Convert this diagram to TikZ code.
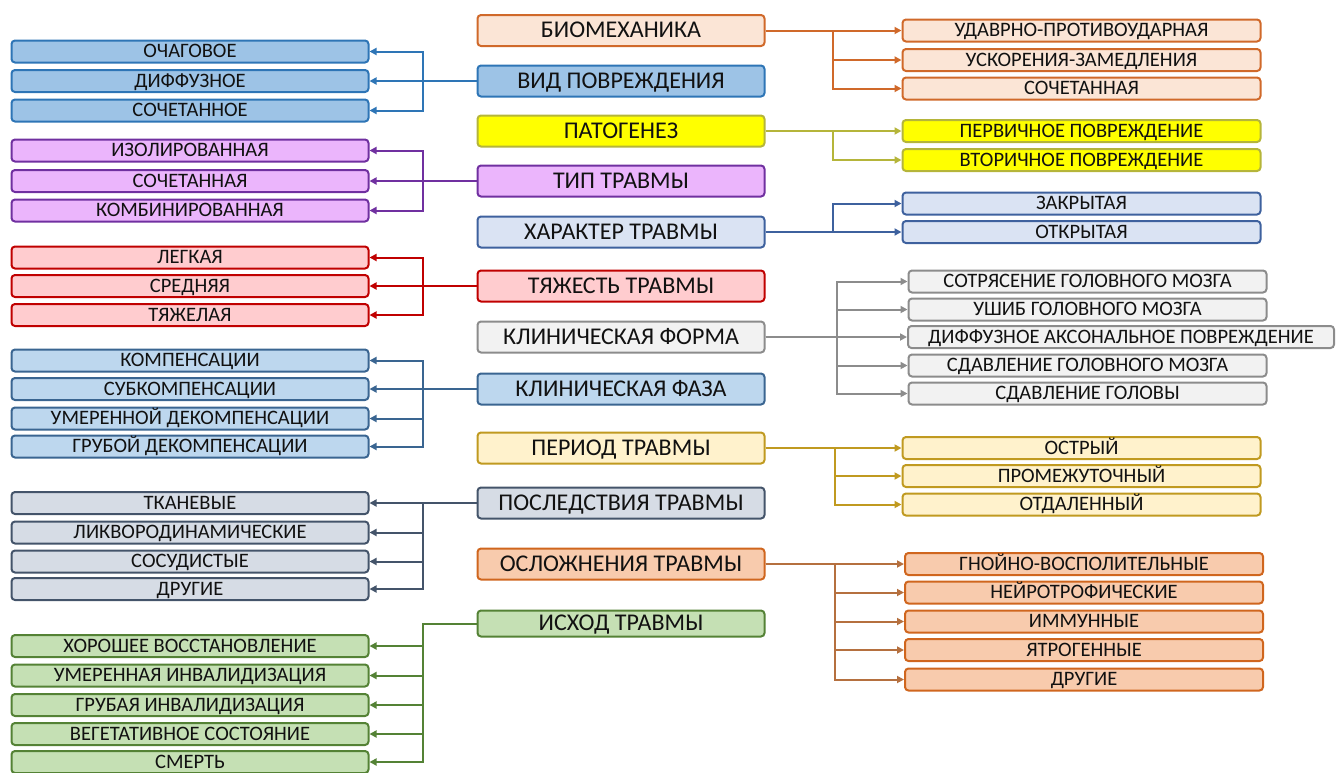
\documentclass[tikz,border=0pt]{standalone}
\usepackage{fontspec}
\setmainfont{Carlito}
\usetikzlibrary{arrows.meta}
\definecolor{txt}{HTML}{111111}
\definecolor{fBlue}{HTML}{9DC3E6}\definecolor{dBlue}{HTML}{2E75B6}
\definecolor{fOr}{HTML}{FBE5D6}\definecolor{dOr}{HTML}{D0692A}
\definecolor{fYe}{HTML}{FFFF00}\definecolor{dYe}{HTML}{B5B53A}
\definecolor{fPu}{HTML}{EBB5FC}\definecolor{dPu}{HTML}{7030A0}
\definecolor{fHa}{HTML}{DAE3F3}\definecolor{dHa}{HTML}{3E619E}
\definecolor{fRe}{HTML}{FFCCCF}\definecolor{dRe}{HTML}{C00000}
\definecolor{fGr}{HTML}{F2F2F2}\definecolor{dGr}{HTML}{8C8C8C}
\definecolor{fFa}{HTML}{BDD7EE}\definecolor{dFa}{HTML}{3A6591}
\definecolor{fPe}{HTML}{FFF2CC}\definecolor{dPe}{HTML}{C09A20}
\definecolor{fPo}{HTML}{D6DCE5}\definecolor{dPo}{HTML}{44546A}
\definecolor{fOs}{HTML}{F8CBAD}\definecolor{dOs}{HTML}{D0661E}\definecolor{cOs}{HTML}{B5703F}
\definecolor{fIs}{HTML}{C5E0B4}\definecolor{dIs}{HTML}{548235}
\tikzset{
 base/.style={draw, rounded corners=3.5pt, line width=2pt, inner sep=0pt, text=txt},
 L/.style={base, minimum width=357pt, minimum height=22pt, text height=12pt, text depth=0pt, font=\fontsize{20.5}{22}\selectfont},
 M/.style={base, minimum width=287pt, minimum height=31pt, text height=14.5pt, text depth=0pt, font=\fontsize{24}{26}\selectfont},
 R/.style={base, minimum width=358pt, minimum height=22pt, text height=12pt, text depth=0pt, font=\fontsize{20.5}{22}\selectfont},
 cn/.style={line width=2pt, -{Triangle[length=7pt,width=7pt]}},
 sBlue/.style={fill=fBlue, draw=dBlue},
 sOr/.style={fill=fOr, draw=dOr},
 sYe/.style={fill=fYe, draw=dYe},
 sPu/.style={fill=fPu, draw=dPu},
 sHa/.style={fill=fHa, draw=dHa},
 sRe/.style={fill=fRe, draw=dRe},
 sGr/.style={fill=fGr, draw=dGr},
 sFa/.style={fill=fFa, draw=dFa},
 sPe/.style={fill=fPe, draw=dPe},
 sPo/.style={fill=fPo, draw=dPo},
 sOs/.style={fill=fOs, draw=dOs},
 sIs/.style={fill=fIs, draw=dIs},
}
\begin{document}
\begin{tikzpicture}[x=1pt,y=-1pt]
\useasboundingbox (0,0) rectangle (1336,772);
% middle column
\node[M,sOr] (bio) at (621,30.5) {БИОМЕХАНИКА};
\node[M,sBlue] (vid) at (621,81) {ВИД ПОВРЕЖДЕНИЯ};
\node[M,sYe] (pato) at (621,131) {ПАТОГЕНЕЗ};
\node[M,sPu] (tip) at (621,181) {ТИП ТРАВМЫ};
\node[M,sHa] (har) at (621,232) {ХАРАКТЕР ТРАВМЫ};
\node[M,sRe] (tyaz) at (621,286) {ТЯЖЕСТЬ ТРАВМЫ};
\node[M,sGr] (klform) at (621,337) {КЛИНИЧЕСКАЯ ФОРМА};
\node[M,sFa] (klfaza) at (621,389) {КЛИНИЧЕСКАЯ ФАЗА};
\node[M,sPe] (period) at (621,448) {ПЕРИОД ТРАВМЫ};
\node[M,sPo] (posl) at (621,503) {ПОСЛЕДСТВИЯ ТРАВМЫ};
\node[M,sOs] (oslo) at (621,564) {ОСЛОЖНЕНИЯ ТРАВМЫ};
\node[M,sIs,minimum height=26pt] (ishod) at (621,623.5) {ИСХОД ТРАВМЫ};
% left column
\node[L,sBlue] (ochag) at (190,51.5) {ОЧАГОВОЕ};
\node[L,sBlue] (diff) at (190,81) {ДИФФУЗНОЕ};
\node[L,sBlue] (soch1) at (190,110.5) {СОЧЕТАННОЕ};
\node[L,sPu] (izol) at (190,150.5) {ИЗОЛИРОВАННАЯ};
\node[L,sPu] (soch3) at (190,181) {СОЧЕТАННАЯ};
\node[L,sPu] (komb) at (190,210.5) {КОМБИНИРОВАННАЯ};
\node[L,sRe] (leg) at (190,257.5) {ЛЕГКАЯ};
\node[L,sRe] (sred) at (190,286) {СРЕДНЯЯ};
\node[L,sRe] (tyazh) at (190,315) {ТЯЖЕЛАЯ};
\node[L,sFa] (komp) at (190,360.5) {КОМПЕНСАЦИИ};
\node[L,sFa] (subk) at (190,389) {СУБКОМПЕНСАЦИИ};
\node[L,sFa] (umer) at (190,418.5) {УМЕРЕННОЙ ДЕКОМПЕНСАЦИИ};
\node[L,sFa] (grub) at (190,446.5) {ГРУБОЙ ДЕКОМПЕНСАЦИИ};
\node[L,sPo] (tkan) at (190,503) {ТКАНЕВЫЕ};
\node[L,sPo] (likv) at (190,532.5) {ЛИКВОРОДИНАМИЧЕСКИЕ};
\node[L,sPo] (sosud) at (190,561.5) {СОСУДИСТЫЕ};
\node[L,sPo] (drug1) at (190,589) {ДРУГИЕ};
\node[L,sIs] (hor) at (190,646) {ХОРОШЕЕ ВОССТАНОВЛЕНИЕ};
\node[L,sIs] (uminv) at (190,675.5) {УМЕРЕННАЯ ИНВАЛИДИЗАЦИЯ};
\node[L,sIs] (grinv) at (190,705) {ГРУБАЯ ИНВАЛИДИЗАЦИЯ};
\node[L,sIs] (veget) at (190,734) {ВЕГЕТАТИВНОЕ СОСТОЯНИЕ};
\node[L,sIs] (smert) at (190,762) {СМЕРТЬ};
% right column
\node[R,sOr] (udar) at (1081.5,30.5) {УДАВРНО-ПРОТИВОУДАРНАЯ};
\node[R,sOr] (uskor) at (1081.5,60) {УСКОРЕНИЯ-ЗАМЕДЛЕНИЯ};
\node[R,sOr] (soch2) at (1081.5,88.5) {СОЧЕТАННАЯ};
\node[R,sYe] (perv) at (1081.5,131) {ПЕРВИЧНОЕ ПОВРЕЖДЕНИЕ};
\node[R,sYe] (vtor) at (1081.5,160) {ВТОРИЧНОЕ ПОВРЕЖДЕНИЕ};
\node[R,sHa] (zakr) at (1081.5,203.5) {ЗАКРЫТАЯ};
\node[R,sHa] (otkr) at (1081.5,232) {ОТКРЫТАЯ};
\node[R,sGr] (sotr) at (1087.5,281.5) {СОТРЯСЕНИЕ ГОЛОВНОГО МОЗГА};
\node[R,sGr] (ushib) at (1087.5,309.5) {УШИБ ГОЛОВНОГО МОЗГА};
\node[R,sGr,minimum width=426pt] (diffaks) at (1121,337) {ДИФФУЗНОЕ АКСОНАЛЬНОЕ ПОВРЕЖДЕНИЕ};
\node[R,sGr] (sdavgm) at (1087.5,365.5) {СДАВЛЕНИЕ ГОЛОВНОГО МОЗГА};
\node[R,sGr] (sdavgol) at (1087.5,393.5) {СДАВЛЕНИЕ ГОЛОВЫ};
\node[R,sPe] (ostr) at (1081.5,448) {ОСТРЫЙ};
\node[R,sPe] (prom) at (1081.5,476) {ПРОМЕЖУТОЧНЫЙ};
\node[R,sPe] (otdal) at (1081.5,504.5) {ОТДАЛЕННЫЙ};
\node[R,sOs] (gnoin) at (1084,564) {ГНОЙНО-ВОСПОЛИТЕЛЬНЫЕ};
\node[R,sOs] (neir) at (1084,592.5) {НЕЙРОТРОФИЧЕСКИЕ};
\node[R,sOs] (imm) at (1084,621.5) {ИММУННЫЕ};
\node[R,sOs] (yatr) at (1084,650) {ЯТРОГЕННЫЕ};
\node[R,sOs] (drug2) at (1084,679.5) {ДРУГИЕ};
% trunk coordinates
\coordinate (tl) at (423,0);
\coordinate (tr) at (833,0);
\coordinate (tf) at (837,0);
\coordinate (tp) at (835,0);
% connectors left
\foreach \c in {ochag,diff,soch1} \draw[cn,color=dBlue] (vid.west) -- (vid.west -| tl) |- (\c.east);
\foreach \c in {izol,soch3,komb} \draw[cn,color=dPu] (tip.west) -- (tip.west -| tl) |- (\c.east);
\foreach \c in {leg,sred,tyazh} \draw[cn,color=dRe] (tyaz.west) -- (tyaz.west -| tl) |- (\c.east);
\foreach \c in {komp,subk,umer,grub} \draw[cn,color=dFa] (klfaza.west) -- (klfaza.west -| tl) |- (\c.east);
\foreach \c in {tkan,likv,sosud,drug1} \draw[cn,color=dPo] (posl.west) -- (posl.west -| tl) |- (\c.east);
\foreach \c in {hor,uminv,grinv,veget,smert} \draw[cn,color=dIs] (ishod.west) -- (ishod.west -| tl) |- (\c.east);
% connectors right
\foreach \c in {udar,uskor,soch2} \draw[cn,color=dOr] (bio.east) -- (bio.east -| tr) |- (\c.west);
\foreach \c in {perv,vtor} \draw[cn,color=dYe] (pato.east) -- (pato.east -| tr) |- (\c.west);
\foreach \c in {zakr,otkr} \draw[cn,color=dHa] (har.east) -- (har.east -| tr) |- (\c.west);
\foreach \c in {sotr,ushib,diffaks,sdavgm,sdavgol} \draw[cn,color=dGr] (klform.east) -- (klform.east -| tf) |- (\c.west);
\foreach \c in {ostr,prom,otdal} \draw[cn,color=dPe] (period.east) -- (period.east -| tp) |- (\c.west);
\foreach \c in {gnoin,neir,imm,yatr,drug2} \draw[cn,color=cOs] (oslo.east) -- (oslo.east -| tp) |- (\c.west);
\end{tikzpicture}
\end{document}
